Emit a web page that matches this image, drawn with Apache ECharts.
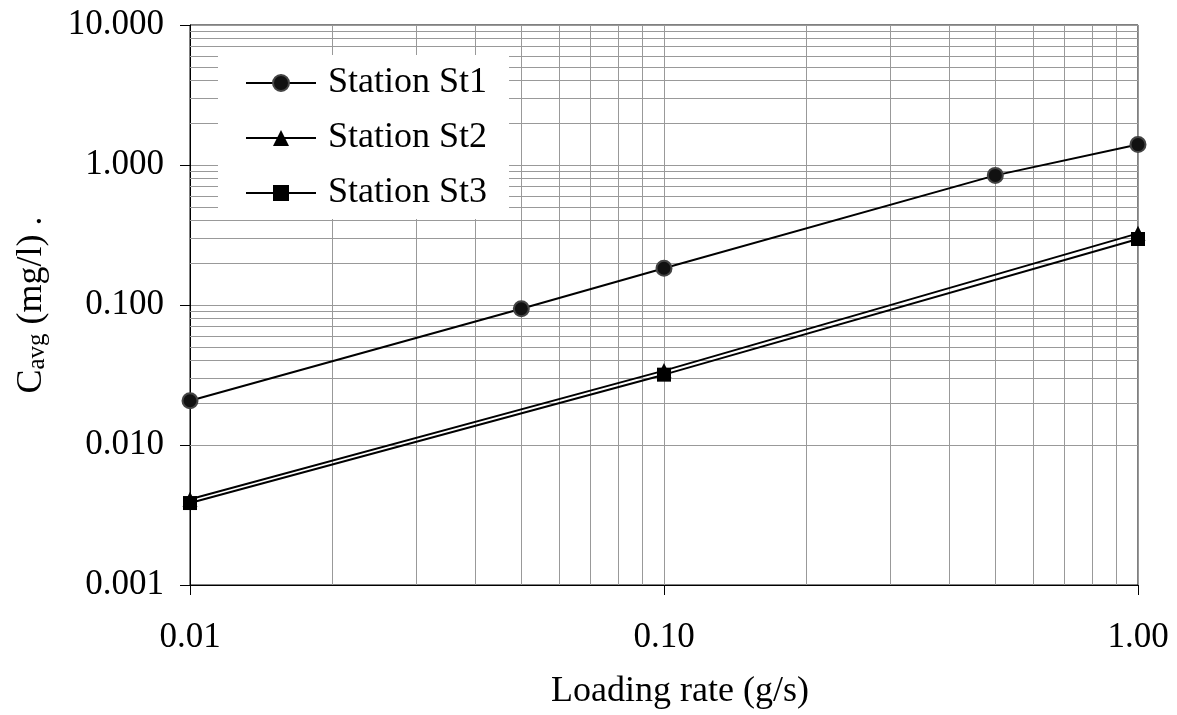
<!DOCTYPE html>
<html><head><meta charset="utf-8">
<script src="https://cdn.jsdelivr.net/npm/echarts@6/dist/echarts.min.js"></script>
<style>html,body{margin:0;padding:0;background:#fff}#c{width:1177px;height:715px}</style>
</head><body><div id="c"></div>
<script>
var seriesNames = ['Station St1', 'Station St2', 'Station St3'];
var xSt1 = [0.01, 0.05, 0.1, 0.5, 1.0];
var ySt1 = [0.0207, 0.094, 0.183, 0.843, 1.40];
var xSt23 = [0.01, 0.1, 1.0];
var ySt2 = [0.0041, 0.034, 0.325];
var ySt3 = [0.00385, 0.0318, 0.296];
var xMinor = [0.02,0.03,0.04,0.05,0.06,0.07,0.08,0.09,0.2,0.3,0.4,0.5,0.6,0.7,0.8,0.9];
var yMinor = [0.002,0.003,0.004,0.005,0.006,0.007,0.008,0.009,
              0.02,0.03,0.04,0.05,0.06,0.07,0.08,0.09,
              0.2,0.3,0.4,0.5,0.6,0.7,0.8,0.9,
              2,3,4,5,6,7,8,9];
var xTitle = 'Loading rate (g/s)';

var FF = 'Liberation Serif';
function pairs(xs, ys){ return xs.map(function(x,i){ return [x, ys[i]]; }); }
var gridLines = xMinor.map(function(v){ return {xAxis: v}; })
  .concat(yMinor.map(function(v){ return {yAxis: v}; }));

var chart = echarts.init(document.getElementById('c'));
chart.setOption({
  animation: false,
  backgroundColor: '#fff',
  grid: {left: 190, right: 39, top: 25, bottom: 127, show: true, borderColor: '#000', borderWidth: 1, backgroundColor: 'transparent'},
  legend: {
    z: 100, zlevel: 0,
    orient: 'vertical', left: 218, top: 55, backgroundColor: '#fff',
    padding: [10, 22, 8, 27], itemWidth: 70, itemHeight: 20, itemGap: 19,
    lineStyle: {width: 2, color: '#000'},
    textStyle: {fontFamily: FF, fontSize: 36, color: '#000', padding: [0,0,0,7]},
    data: seriesNames
  },
  xAxis: {
    type: 'log', logBase: 10, min: 0.01, max: 1,
    name: xTitle, nameLocation: 'middle', nameGap: 89,
    nameTextStyle: {fontFamily: FF, fontSize: 36, color: '#000', padding: [0,0,0,32]},
    axisLine: {lineStyle: {color: '#000', width: 1}},
    axisTick: {show: true, length: 10, lineStyle: {color: '#000'}},
    axisLabel: {fontFamily: FF, fontSize: 35, color: '#000', margin: 35,
      formatter: function(v){ return Number(v).toFixed(2); }},
    splitLine: {show: true, lineStyle: {color: '#999', width: 1}},
    minorTick: {show: false}, minorSplitLine: {show: false}
  },
  yAxis: {
    type: 'log', logBase: 10, min: 0.001, max: 10,
    name: '{c|C}{s|avg}{c| (mg/l) .}', nameLocation: 'middle', nameGap: 140, nameRotate: 90,
    nameTextStyle: {fontFamily: FF, fontSize: 36, color: '#000',
      rich: {c: {fontFamily: FF, fontSize: 36, color: '#000'},
             s: {fontFamily: FF, fontSize: 25, color: '#000', padding: [12,0,0,0]}}},
    axisLine: {lineStyle: {color: '#000', width: 1}},
    axisTick: {show: true, length: 10, lineStyle: {color: '#000'}},
    axisLabel: {fontFamily: FF, fontSize: 35, color: '#000', margin: 26,
      formatter: function(v){ return Number(v).toFixed(3); }},
    splitLine: {show: true, lineStyle: {color: '#999', width: 1}},
    minorTick: {show: false}, minorSplitLine: {show: false}
  },
  series: [
    {
      name: 'minor-grid', type: 'line', data: [], z: 1, zlevel: 0, silent: true,
      markLine: {silent: true, symbol: ['none','none'], animation: false, z: 1,
        label: {show: false}, lineStyle: {color: '#999', width: 1, type: 'solid'},
        emphasis: {disabled: true}, data: gridLines}
    },
    {
      name: seriesNames[0], type: 'line', z: 3, data: pairs(xSt1, ySt1),
      symbol: 'circle', symbolSize: 15,
      lineStyle: {color: '#000', width: 2},
      itemStyle: {color: '#111', borderColor: '#444', borderWidth: 2}
    },
    {
      name: seriesNames[1], type: 'line', z: 3, data: pairs(xSt23, ySt2),
      symbol: 'triangle', symbolSize: 15,
      lineStyle: {color: '#000', width: 2},
      itemStyle: {color: '#000', borderColor: '#000', borderWidth: 0}
    },
    {
      name: seriesNames[2], type: 'line', z: 3, data: pairs(xSt23, ySt3),
      symbol: 'rect', symbolSize: 14,
      lineStyle: {color: '#000', width: 2},
      itemStyle: {color: '#000', borderColor: '#000', borderWidth: 0}
    }
  ]
});
</script></body></html>
